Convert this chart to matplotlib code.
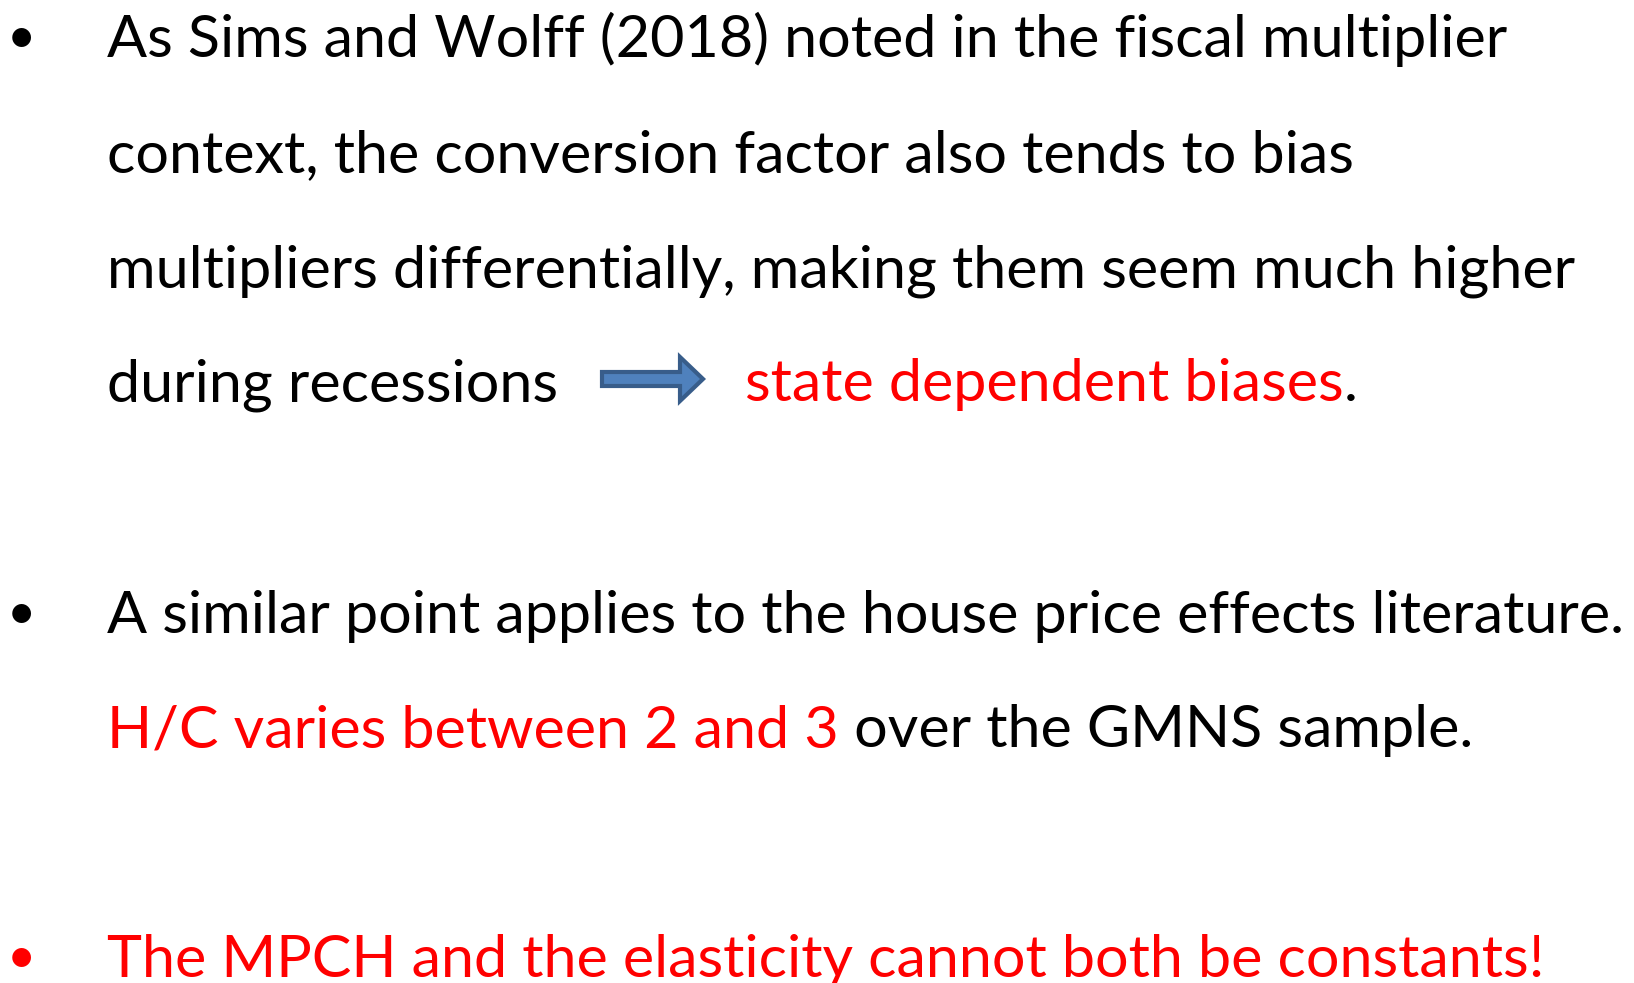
import matplotlib

matplotlib.use("Agg")
import matplotlib.pyplot as plt
from matplotlib.patches import FancyArrow

W, H = 1634, 983
FONT = "Lato"

BLACK = "#000000"
RED = "#ff0000"

# each line: list of (text, color) segments, baseline y in px, has bullet
LINES = [
    ([("As Sims and Wolff (2018) noted in the fiscal multiplier", BLACK)], 57, True),
    ([("context, the conversion factor also tends to bias", BLACK)], 172, False),
    ([("multipliers differentially, making them seem much higher", BLACK)], 287, False),
    ([("during recessions", BLACK)], 401, False),
    ([("A similar point applies to the house price effects literature.", BLACK)], 633, True),
    ([("H/C varies between 2 and 3", RED), (" over the GMNS sample.", BLACK)], 747, False),
    ([("The MPCH and the elasticity cannot both be constants!", RED)], 977, True),
]
BULLET_COLORS = [BLACK, BLACK, RED]
ARROW_TAIL = [("state dependent biases", RED), (".", BLACK)]

TEXT_X = 107
BULLET_X = 21
WIDEST_END = 1624  # right edge of the longest line in the reference

fig = plt.figure(figsize=(W / 100, H / 100), dpi=100)
ax = fig.add_axes([0, 0, 1, 1])
ax.set_xlim(0, W)
ax.set_ylim(H, 0)
ax.axis("off")
renderer = fig.canvas.get_renderer()

# pick the font size so the longest line fits like in the slide
probe = ax.text(0, 0, LINES[4][0][0][0], fontsize=40, family=FONT)
FS = 40 * (WIDEST_END - TEXT_X) / probe.get_window_extent(renderer=renderer).width
probe.remove()


def draw_segments(segs, x, y):
    for s, c in segs:
        t = ax.text(x, y, s, color=c, fontsize=FS, family=FONT, va="baseline", ha="left")
        x += t.get_window_extent(renderer=renderer).width
    return x


bi = 0
for segs, y, bullet in LINES:
    if bullet:
        ax.text(BULLET_X, y - 4, "\u2022", color=BULLET_COLORS[bi], fontsize=FS * 0.85,
                family=FONT, va="baseline", ha="center")
        bi += 1
    draw_segments(segs, TEXT_X, y)

# arrow + red phrase on the "during recessions" line
arr = FancyArrow(602, 379, 78, 0, width=14, head_width=44, head_length=23,
                 length_includes_head=False, facecolor="#4f81bd", edgecolor="#385d8a", lw=3)
ax.add_patch(arr)
draw_segments(ARROW_TAIL, 745, 401)

fig.savefig("out.png", dpi=100, facecolor="white")
